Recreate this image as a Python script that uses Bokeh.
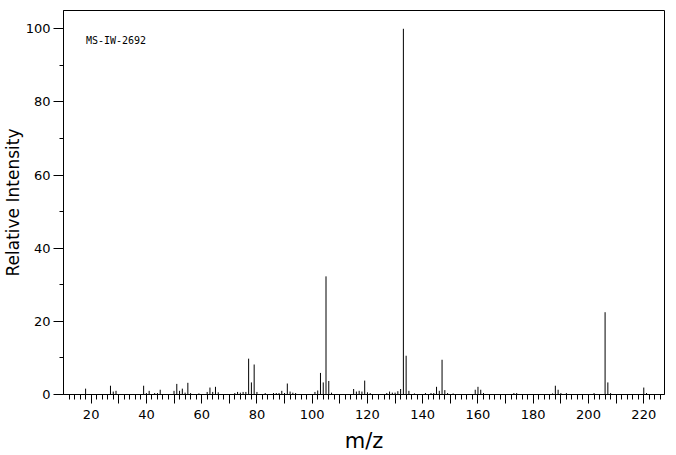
from bokeh.plotting import figure
from bokeh.models import ColumnDataSource, FixedTicker, Label, Range1d, Title
from bokeh.embed import file_html
from bokeh.resources import INLINE

# m/z values and relative intensities
mz = [18, 27, 28, 29, 39, 40, 41, 43, 44, 45, 50, 51, 52, 53, 54, 55, 56, 59,
      62, 63, 64, 65, 66, 72, 73, 74, 75, 76, 77, 78, 79, 80, 83, 86, 87, 88,
      89, 90, 91, 92, 93, 94, 101, 102, 103, 104, 105, 106, 107, 115, 116, 117,
      118, 119, 120, 121, 127, 128, 129, 130, 131, 132, 133, 134, 135, 137, 141,
      143, 144, 145, 146, 147, 148, 149, 151, 159, 160, 161, 162, 173, 174, 187,
      188, 189, 190, 192, 202, 206, 207, 208, 220, 221]
intensity = [1.6, 2.4, 0.8, 1.0, 2.4, 0.4, 1.0, 0.4, 0.4, 1.3, 1.0, 2.9, 1.0, 1.6,
             0.5, 3.2, 0.4, 0.3, 0.7, 1.9, 0.7, 2.1, 0.6, 0.4, 0.7, 0.5, 0.7, 0.7,
             9.8, 3.3, 8.2, 0.7, 0.4, 0.4, 0.4, 0.4, 1.0, 0.4, 3.0, 0.8, 0.5, 0.4,
             0.7, 1.1, 5.9, 3.3, 32.3, 3.7, 0.5, 1.5, 0.8, 1.0, 0.8, 3.8, 0.6, 0.4,
             0.4, 0.8, 0.5, 0.5, 0.9, 1.5, 100.0, 10.6, 1.0, 0.3, 0.4, 0.4, 0.4,
             2.1, 1.0, 9.5, 1.2, 0.4, 0.3, 1.3, 2.1, 1.3, 0.4, 0.4, 0.4, 0.3, 2.4,
             1.3, 0.4, 0.4, 0.4, 22.5, 3.3, 0.4, 1.9, 0.4]

x_major = list(range(20, 221, 10))
x_minor = list(range(12, 227, 2))
x_labels = {t: (str(t) if t % 20 == 0 else "") for t in x_major}
y_major = [0, 20, 40, 60, 80, 100]
y_minor = [10, 30, 50, 70, 90]
title_text = "MS-IW-2692"
x_title = "m/z"
y_title = "Relative Intensity"

src = ColumnDataSource(data=dict(mz=mz, zero=[0] * len(mz), inten=intensity))

p = figure(width=676, height=455, output_backend="svg", toolbar_location=None,
           x_range=Range1d(10, 227.5), y_range=Range1d(0, 105),
           min_border_left=63, min_border_right=12, min_border_top=10,
           min_border_bottom=61)
p.background_fill_color = "white"
p.border_fill_color = "white"
p.outline_line_color = "black"
p.outline_line_width = 1
p.xgrid.visible = False
p.ygrid.visible = False

p.segment(x0="mz", y0="zero", x1="mz", y1="inten", source=src,
          line_color="black", line_width=1)

font = "DejaVu Sans"

xa = p.xaxis[0]
xa.ticker = FixedTicker(ticks=x_major, minor_ticks=x_minor)
xa.major_label_overrides = x_labels
xa.major_tick_out = 9
xa.major_tick_in = 0
xa.minor_tick_out = 5
xa.minor_tick_in = 0
xa.major_label_standoff = 6
xa.major_label_text_font = font
xa.major_label_text_font_size = "13px"
xa.major_label_text_color = "black"
xa.axis_label = x_title
xa.axis_label_text_font = font
xa.axis_label_text_font_size = "21px"
xa.axis_label_text_font_style = "normal"
xa.axis_label_text_color = "black"
xa.axis_label_standoff = 7
xa.axis_line_color = "black"
xa.major_tick_line_color = "black"
xa.minor_tick_line_color = "black"

ya = p.yaxis[0]
ya.ticker = FixedTicker(ticks=y_major, minor_ticks=y_minor)
ya.major_tick_out = 10
ya.major_tick_in = 0
ya.minor_tick_out = 4
ya.minor_tick_in = 0
ya.major_label_standoff = 3
ya.major_label_text_font = font
ya.major_label_text_font_size = "13px"
ya.major_label_text_color = "black"
ya.axis_line_color = "black"
ya.major_tick_line_color = "black"
ya.minor_tick_line_color = "black"

# y axis title as a side title left of the axis
p.add_layout(Title(text=y_title, align="center", standoff=0, text_font=font,
                   text_font_size="17px", text_font_style="normal",
                   text_color="black"), "left")

p.add_layout(Label(x=18.1, y=96.7, text=title_text, text_font="DejaVu Sans Mono",
                   text_font_size="10px", text_baseline="middle", text_color="black"))

open("out.html", "w").write(file_html(p, INLINE))
